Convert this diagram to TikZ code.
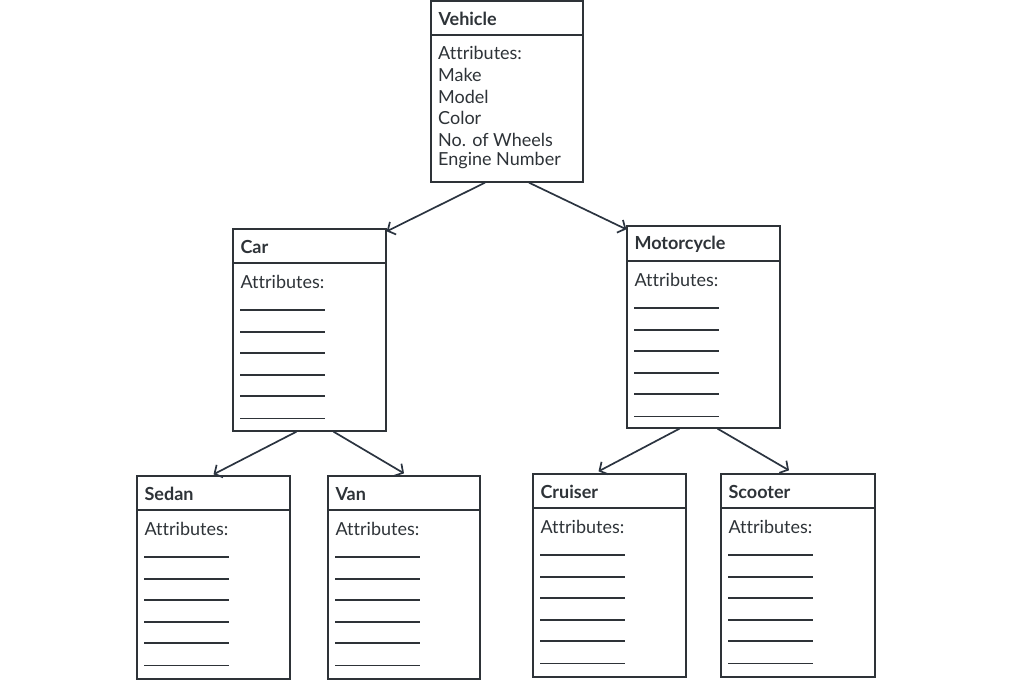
\documentclass[tikz,border=0pt]{standalone}
\usepackage{fontspec}
\setmainfont{Lato}[Ligatures={NoCommon}]
\usetikzlibrary{arrows.meta,calc}
\definecolor{ink}{HTML}{2E3338}
\definecolor{arrowc}{HTML}{2B3440}
\tikzset{
  boxframe/.style={draw=ink, line width=1.3pt, fill=white, inner sep=0pt},
  hdrline/.style={draw=ink, line width=2pt},
  title/.style={anchor=west, inner sep=0pt, font=\fontsize{18}{18}\selectfont\bfseries, text=ink},
  attr/.style={anchor=west, inner sep=0pt, font=\fontsize{18}{18}\selectfont, text=ink},
  blank/.style={draw=ink, line width=1.8pt},
  blankthin/.style={draw=ink, line width=1pt},
  arr/.style={draw=arrowc, line width=1.7pt, -{Straight Barb[length=6pt,width=14pt,line width=1.7pt]}},
}
% \umlbox{name}{x1}{y1}{x2}{y2}{header y}{title}
\newcommand{\umlbox}[7]{%
  \node[boxframe, minimum width={#4-#2}, minimum height={#5-#3}] (#1) at ({(#2+#4)/2},{(#3+#5)/2}) {};
  \draw[hdrline] (#1.west |- 0,#6) -- (#1.east |- 0,#6);
  \node[title] (#1-t) at ($(#1.north west)+(8,{(#6-#3)/2+1.5})$) {#7};
}
\newcommand{\blanks}[2]{% name, header y
  \node[attr] (#1-a) at ($(#1.west |- 0,#2)+(8,18.5)$) {Attributes:};
  \foreach \k/\s in {47/blank,69/blank,90/blank,112/blank,133/blank,155/blankthin}{
    \draw[\s] ($(#1.west |- 0,#2)+(8,\k)$) -- ++(85,0);
  }
}
\begin{document}
\begin{tikzpicture}[x=1pt,y=-1pt]
\useasboundingbox (0,0) rectangle (1012,680);
% Vehicle
\umlbox{veh}{431}{1}{583}{182}{35}{Vehicle}
\node[attr] at (438,52.5) {Attributes:};
\node[attr] at (438,74.5) {Make};
\node[attr] at (438,96.5) {Model};
\node[attr] at (438,117.5) {Color};
\node[attr] at (438,139.5) {No. of Wheels};
\node[attr] at (438,160.5) {Engine Number};
% Car
\umlbox{car}{233}{229}{386}{431}{263}{Car}
\blanks{car}{263}
% Motorcycle
\umlbox{moto}{627}{226}{780}{428}{261}{Motorcycle}
\blanks{moto}{261}
% Sedan
\umlbox{sedan}{137}{476}{290}{679}{510}{Sedan}
\blanks{sedan}{510}
% Van
\umlbox{van}{328}{476}{480}{679}{510}{Van}
\blanks{van}{510}
% Cruiser
\umlbox{cruiser}{533}{474}{686}{677}{508}{Cruiser}
\blanks{cruiser}{508}
% Scooter
\umlbox{scooter}{721}{474}{875}{677}{508}{Scooter}
\blanks{scooter}{508}
% connectors
\draw[arr] ([xshift=-22pt]veh.south) -- ([yshift=-3pt]car.north east);
\draw[arr] ([xshift=22pt]veh.south) -- ([yshift=-4pt]moto.north west);
\draw[arr] ([xshift=-13pt]car.south) -- ([yshift=1pt]sedan.north);
\draw[arr] ([xshift=24pt]car.south) -- ([yshift=2pt]van.north);
\draw[arr] ([xshift=-24pt]moto.south) -- ([xshift=-11pt,yshift=2pt]cruiser.north);
\draw[arr] ([xshift=14pt]moto.south) -- ([xshift=-9pt,yshift=3pt]scooter.north);
\end{tikzpicture}
\end{document}
